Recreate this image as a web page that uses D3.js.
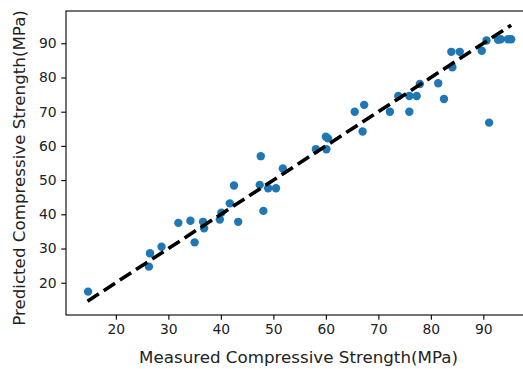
<!DOCTYPE html>
<html><head><meta charset="utf-8">
<script src="https://cdn.jsdelivr.net/npm/d3@7"></script>
<style>body{margin:0;background:#fff}svg{display:block}text{font-family:"DejaVu Sans",sans-serif;fill:#222}</style>
</head><body>
<svg id="c" width="523" height="369"></svg>
<script>
const measured = [14.7, 26.5, 26.3, 28.7, 31.9, 34.2, 35.0, 36.6, 36.8, 39.8, 40.1, 41.7, 42.5, 43.3, 47.6, 47.4, 49.0, 50.5, 51.8, 48.1, 58.1, 60.0, 60.4, 60.1, 65.5, 67.3, 67.0, 72.2, 73.8, 75.9, 77.3, 75.9, 77.9, 81.4, 82.5, 83.9, 85.5, 84.1, 89.7, 90.6, 92.8, 93.3, 94.7, 95.3, 91.1];
const predicted = [17.4, 28.6, 24.7, 30.5, 37.5, 38.1, 31.8, 37.8, 35.9, 38.5, 40.5, 43.2, 48.4, 37.8, 57.0, 48.6, 47.6, 47.6, 53.4, 41.0, 59.0, 62.7, 62.2, 59.0, 70.0, 72.0, 64.2, 70.0, 74.6, 74.6, 74.6, 70.0, 78.1, 78.3, 73.7, 87.5, 87.5, 83.0, 87.8, 90.8, 91.0, 91.2, 91.2, 91.2, 66.8];
const idealLine = [14.6, 95.3];
const xTicks = [20, 30, 40, 50, 60, 70, 80, 90];
const yTicks = [20, 30, 40, 50, 60, 70, 80, 90];
const xLabel = "Measured Compressive Strength(MPa)";
const yLabel = "Predicted Compressive Strength(MPa)";

const svg = d3.select("#c");
const L = 66, T = 11, B = 315, R = 532.7;
const x = d3.scaleLinear().domain([10.5, 99.4]).range([L, R]);
const y = d3.scaleLinear().domain([10.56, 99.44]).range([B, T]);

// points
svg.append("g").selectAll("circle").data(measured).join("circle")
  .attr("cx", (d,i) => x(d)).attr("cy", (d,i) => y(predicted[i]))
  .attr("r", 4.2).attr("fill", "#1f77b4");

// ideal line
svg.append("line")
  .attr("x1", x(idealLine[0])).attr("y1", y(idealLine[0]))
  .attr("x2", x(idealLine[1])).attr("y2", y(idealLine[1]))
  .attr("stroke", "#000").attr("stroke-width", 3.6)
  .attr("stroke-dasharray", "13.5,5.8");

// frame
svg.append("rect").attr("x", L).attr("y", T).attr("width", R - L).attr("height", B - T)
  .attr("fill", "none").attr("stroke", "#000").attr("stroke-width", 1.1);

const fmt = d3.format("d");
const gx = svg.append("g").attr("transform", `translate(0,${B})`)
  .call(d3.axisBottom(x).tickValues(xTicks).tickFormat(fmt).tickSize(4.8).tickPadding(4.5));
const gy = svg.append("g").attr("transform", `translate(${L},0)`)
  .call(d3.axisLeft(y).tickValues(yTicks).tickFormat(fmt).tickSize(4.8).tickPadding(4.5));
[gx, gy].forEach(g => {
  g.select(".domain").remove();
  g.selectAll(".tick line").attr("stroke", "#000").attr("stroke-width", 1.1);
  g.selectAll(".tick text").attr("font-size", "13.9px").attr("font-family", "DejaVu Sans").attr("fill", "#222");
});

svg.append("text").attr("x", 298.5).attr("y", 363)
  .attr("text-anchor", "middle").attr("font-size", "16.7px").text(xLabel);
svg.append("text").attr("transform", `translate(25,168) rotate(-90)`)
  .attr("text-anchor", "middle").attr("font-size", "16.7px").text(yLabel);
</script>
</body></html>
